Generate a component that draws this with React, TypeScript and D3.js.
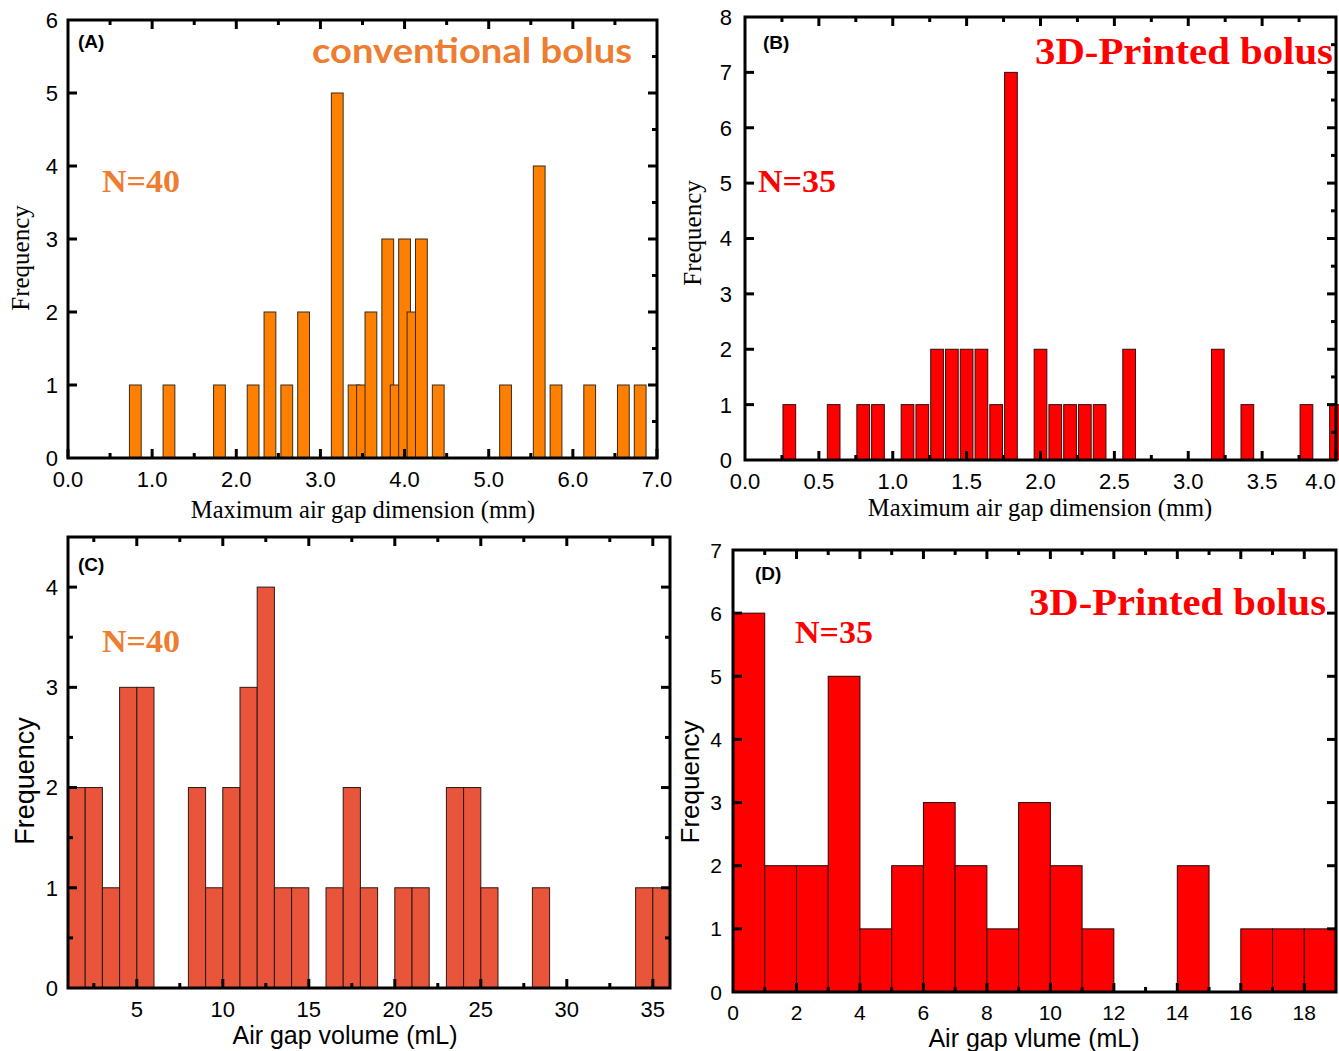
import React from "react";
import * as d3 from "d3";

// ---------- DATA ----------
// Panel A: conventional bolus, maximum air gap dimension (mm)
const aCenters = [0.8, 1.2, 1.8, 2.2, 2.4, 2.6, 2.8, 3.2, 3.4, 3.5, 3.6, 3.8, 3.9, 4.0, 4.1, 4.2, 4.4, 5.2, 5.6, 5.8, 6.2, 6.6, 6.8];
const aCounts = [1, 1, 1, 1, 2, 1, 2, 5, 1, 1, 2, 3, 1, 3, 2, 3, 1, 1, 4, 1, 1, 1, 1];
// Panel B: 3D-printed bolus, maximum air gap dimension (mm)
const bCenters = [0.3, 0.6, 0.8, 0.9, 1.1, 1.2, 1.3, 1.4, 1.5, 1.6, 1.7, 1.8, 2.0, 2.1, 2.2, 2.3, 2.4, 2.6, 3.2, 3.4, 3.8, 4.0];
const bCounts = [1, 1, 1, 1, 1, 1, 2, 2, 2, 2, 1, 7, 2, 1, 1, 1, 1, 2, 2, 1, 1, 1];
// Panel C: conventional bolus, air gap volume (mL), bins of width 1
const cBinStarts = [1, 2, 3, 4, 5, 8, 9, 10, 11, 12, 13, 14, 16, 17, 18, 20, 21, 23, 24, 25, 28, 34, 35];
const cCounts = [2, 2, 1, 3, 3, 2, 1, 2, 3, 4, 1, 1, 1, 2, 1, 1, 1, 2, 2, 1, 1, 1, 1];
// Panel D: 3D-printed bolus, air gap volume (mL), bins of width 1
const dBinStarts = [0, 1, 2, 3, 4, 5, 6, 7, 8, 9, 10, 11, 14, 16, 17, 18];
const dCounts = [6, 2, 2, 5, 1, 2, 3, 2, 1, 3, 2, 1, 2, 1, 1, 1];

const aXTickLabels = ["0.0", "1.0", "2.0", "3.0", "4.0", "5.0", "6.0", "7.0"];
const bXTickLabels = ["0.0", "0.5", "1.0", "1.5", "2.0", "2.5", "3.0", "3.5", "4.0"];
const cXTickLabels = ["5", "10", "15", "20", "25", "30", "35"];
const dXTickLabels = ["0", "2", "4", "6", "8", "10", "12", "14", "16", "18"];

const ORANGE_TEXT = "#ED7D31";
const RED = "#FF0000";
const SANS = "'Liberation Sans', Arial, sans-serif";
const SERIF = "'Liberation Serif', 'Times New Roman', serif";
const SVG_W = 1339;

type Bar = { x0: number; x1: number; h: number };

type PanelProps = {
  box: { left: number; right: number; top: number; bottom: number };
  xDomain: [number, number];
  yDomain: [number, number];
  bars: Bar[];
  fill: string;
  stroke: string;
  bottomMajor: number[];
  bottomMinor: number[];
  bottomLabels: string[];
  topMajor: number[];
  topMinor: number[];
  leftMajor: number[];
  leftMinor: number[];
  rightMajor: number[];
  rightMinor: number[];
  yLabels: number[];
  xLabelBaseline: number;
  yLabelGap: number;
  tickFont: number;
  xTitle: string;
  xTitleFont: string;
  xTitleSize: number;
  xTitleX: number;
  xTitleY: number;
  yTitleFont: string;
  yTitleSize: number;
  yTitleX: number;
  yTitleY: number;
  letter: string;
  letterX: number;
  letterY: number;
};

function Panel(p: PanelProps) {
  const x = d3.scaleLinear().domain(p.xDomain).range([p.box.left, p.box.right]);
  const y = d3.scaleLinear().domain(p.yDomain).range([p.box.bottom, p.box.top]);
  const MAJ = 9;
  const MIN = 5;
  const tk = { stroke: "#000", strokeWidth: 3 };
  return (
    <g>
      {p.bars.map((b, i) => (
        <rect
          key={i}
          x={x(b.x0)}
          y={y(b.h)}
          width={x(b.x1) - x(b.x0)}
          height={y(0) - y(b.h)}
          fill={p.fill}
          stroke={p.stroke}
          strokeWidth={1}
        />
      ))}
      {p.bottomMajor.map((v, i) => (
        <line key={"bM" + i} x1={x(v)} x2={x(v)} y1={p.box.bottom} y2={p.box.bottom - MAJ} {...tk} />
      ))}
      {p.bottomMinor.map((v, i) => (
        <line key={"bm" + i} x1={x(v)} x2={x(v)} y1={p.box.bottom} y2={p.box.bottom - MIN} {...tk} />
      ))}
      {p.topMajor.map((v, i) => (
        <line key={"tM" + i} x1={x(v)} x2={x(v)} y1={p.box.top} y2={p.box.top + MAJ} {...tk} />
      ))}
      {p.topMinor.map((v, i) => (
        <line key={"tm" + i} x1={x(v)} x2={x(v)} y1={p.box.top} y2={p.box.top + MIN} {...tk} />
      ))}
      {p.leftMajor.map((v, i) => (
        <line key={"lM" + i} x1={p.box.left} x2={p.box.left + MAJ} y1={y(v)} y2={y(v)} {...tk} />
      ))}
      {p.leftMinor.map((v, i) => (
        <line key={"lm" + i} x1={p.box.left} x2={p.box.left + MIN} y1={y(v)} y2={y(v)} {...tk} />
      ))}
      {p.rightMajor.map((v, i) => (
        <line key={"rM" + i} x1={p.box.right} x2={p.box.right - MAJ} y1={y(v)} y2={y(v)} {...tk} />
      ))}
      {p.rightMinor.map((v, i) => (
        <line key={"rm" + i} x1={p.box.right} x2={p.box.right - MIN} y1={y(v)} y2={y(v)} {...tk} />
      ))}
      <rect
        x={p.box.left}
        y={p.box.top}
        width={p.box.right - p.box.left}
        height={p.box.bottom - p.box.top}
        fill="none"
        stroke="#000"
        strokeWidth={3}
      />
      {p.bottomLabels.map((s, i) => {
        const cx = x(parseFloat(s));
        const half = (s.length * 0.5 * p.tickFont) / 2;
        const shifted = Math.min(cx, SVG_W - 2 - half);
        return (
          <text
            key={"xl" + i}
            x={shifted}
            y={p.xLabelBaseline}
            textAnchor="middle"
            fontFamily={SANS}
            fontSize={p.tickFont}
          >
            {s}
          </text>
        );
      })}
      {p.yLabels.map((v, i) => (
        <text
          key={"yl" + i}
          x={p.box.left - p.yLabelGap}
          y={y(v)}
          dy="0.36em"
          textAnchor="end"
          fontFamily={SANS}
          fontSize={p.tickFont}
        >
          {v}
        </text>
      ))}
      <text x={p.xTitleX} y={p.xTitleY} textAnchor="middle" fontFamily={p.xTitleFont} fontSize={p.xTitleSize}>
        {p.xTitle}
      </text>
      <text
        transform={`translate(${p.yTitleX},${p.yTitleY}) rotate(-90)`}
        textAnchor="middle"
        dy="0.35em"
        fontFamily={p.yTitleFont}
        fontSize={p.yTitleSize}
      >
        Frequency
      </text>
      <text x={p.letterX} y={p.letterY} fontFamily={SANS} fontWeight="bold" fontSize={19}>
        {p.letter}
      </text>
    </g>
  );
}

export default function App() {
  const aBars = aCenters.map((c, i) => ({ x0: c - 0.07, x1: c + 0.07, h: aCounts[i] }));
  const bBars = bCenters.map((c, i) => ({ x0: c - 0.043, x1: c + 0.043, h: bCounts[i] }));
  const cBars = cBinStarts.map((s, i) => ({ x0: s, x1: s + 1, h: cCounts[i] }));
  const dBars = dBinStarts.map((s, i) => ({ x0: s, x1: s + 1, h: dCounts[i] }));

  return (
    <svg
      width={1339}
      height={1051}
      style={{ position: "absolute", left: 0, top: 0, background: "#fff" }}
    >
      <rect x={0} y={0} width={1339} height={1051} fill="#fff" />
      {/* Panel A */}
      <Panel
        box={{ left: 68, right: 657, top: 20, bottom: 458 }}
        xDomain={[0, 7]}
        yDomain={[0, 6]}
        bars={aBars}
        fill="#FF8000"
        stroke="#3a2a1a"
        bottomMajor={d3.range(0, 7.01, 1)}
        bottomMinor={d3.range(0.5, 7, 1)}
        bottomLabels={aXTickLabels}
        topMajor={d3.range(1, 7, 1)}
        topMinor={d3.range(0.5, 7, 1)}
        leftMajor={d3.range(1, 6, 1)}
        leftMinor={[]}
        rightMajor={d3.range(1, 6, 1)}
        rightMinor={d3.range(0.5, 6, 1)}
        yLabels={d3.range(0, 7, 1)}
        xLabelBaseline={487}
        yLabelGap={10}
        tickFont={22}
        xTitle="Maximum air gap dimension (mm)"
        xTitleFont={SERIF}
        xTitleSize={24.5}
        xTitleX={363}
        xTitleY={518}
        yTitleFont={SERIF}
        yTitleSize={25}
        yTitleX={20}
        yTitleY={258}
        letter="(A)"
        letterX={78}
        letterY={48}
      />
      <text x={632} y={63} textAnchor="end" fontFamily="Lato, 'Open Sans', sans-serif" fontWeight="bold" fontSize={35} fill={ORANGE_TEXT} textLength={320} lengthAdjust="spacingAndGlyphs">
        conventional bolus
      </text>
      <text x={102} y={192} fontFamily={SERIF} fontWeight="bold" fontSize={32} fill={ORANGE_TEXT} textLength={78} lengthAdjust="spacingAndGlyphs">
        N=40
      </text>

      {/* Panel B */}
      <Panel
        box={{ left: 745, right: 1336, top: 17, bottom: 460 }}
        xDomain={[0, 4]}
        yDomain={[0, 8]}
        bars={bBars}
        fill="#FF0000"
        stroke="#3a0a0a"
        bottomMajor={d3.range(0.5, 4.01, 0.5)}
        bottomMinor={d3.range(0.25, 4, 0.5)}
        bottomLabels={bXTickLabels}
        topMajor={d3.range(0.5, 4, 0.5)}
        topMinor={d3.range(0.25, 4, 0.5)}
        leftMajor={d3.range(1, 8, 1)}
        leftMinor={[]}
        rightMajor={d3.range(1, 8, 1)}
        rightMinor={d3.range(0.5, 8, 1)}
        yLabels={d3.range(0, 9, 1)}
        xLabelBaseline={489}
        yLabelGap={13}
        tickFont={22}
        xTitle="Maximum air gap dimension (mm)"
        xTitleFont={SERIF}
        xTitleSize={24.5}
        xTitleX={1040}
        xTitleY={516}
        yTitleFont={SERIF}
        yTitleSize={25}
        yTitleX={692}
        yTitleY={233}
        letter="(B)"
        letterX={763}
        letterY={49}
      />
      <text x={1333} y={64} textAnchor="end" fontFamily={SERIF} fontWeight="bold" fontSize={38} fill={RED} textLength={298} lengthAdjust="spacingAndGlyphs">
        3D-Printed bolus
      </text>
      <text x={758} y={192} fontFamily={SERIF} fontWeight="bold" fontSize={32} fill={RED} textLength={78} lengthAdjust="spacingAndGlyphs">
        N=35
      </text>

      {/* Panel C */}
      <Panel
        box={{ left: 68, right: 670, top: 537, bottom: 988 }}
        xDomain={[1, 36]}
        yDomain={[0, 4.5]}
        bars={cBars}
        fill="#E8553B"
        stroke="#2a1a14"
        bottomMajor={d3.range(5, 36, 5)}
        bottomMinor={d3.range(2.5, 36, 5)}
        bottomLabels={cXTickLabels}
        topMajor={d3.range(5, 36, 5)}
        topMinor={d3.range(2.5, 36, 5)}
        leftMajor={d3.range(1, 5, 1)}
        leftMinor={d3.range(0.5, 4.5, 1)}
        rightMajor={d3.range(1, 5, 1)}
        rightMinor={d3.range(0.5, 4.5, 1)}
        yLabels={d3.range(0, 5, 1)}
        xLabelBaseline={1017}
        yLabelGap={10}
        tickFont={22}
        xTitle="Air gap volume (mL)"
        xTitleFont={SANS}
        xTitleSize={25}
        xTitleX={345}
        xTitleY={1044}
        yTitleFont={SANS}
        yTitleSize={27}
        yTitleX={25}
        yTitleY={781}
        letter="(C)"
        letterX={78}
        letterY={571}
      />
      <text x={102} y={652} fontFamily={SERIF} fontWeight="bold" fontSize={32} fill={ORANGE_TEXT} textLength={78} lengthAdjust="spacingAndGlyphs">
        N=40
      </text>

      {/* Panel D */}
      <Panel
        box={{ left: 733, right: 1336, top: 550, bottom: 992 }}
        xDomain={[0, 19]}
        yDomain={[0, 7]}
        bars={dBars}
        fill="#FF0000"
        stroke="#2a0505"
        bottomMajor={d3.range(2, 19, 2)}
        bottomMinor={d3.range(1, 19, 2)}
        bottomLabels={dXTickLabels}
        topMajor={d3.range(2, 19, 2)}
        topMinor={d3.range(1, 19, 2)}
        leftMajor={d3.range(1, 7, 1)}
        leftMinor={[]}
        rightMajor={d3.range(1, 7, 1)}
        rightMinor={[]}
        yLabels={d3.range(0, 8, 1)}
        xLabelBaseline={1020}
        yLabelGap={11}
        tickFont={21}
        xTitle="Air gap vlume (mL)"
        xTitleFont={SANS}
        xTitleSize={25}
        xTitleX={1034}
        xTitleY={1047}
        yTitleFont={SANS}
        yTitleSize={26}
        yTitleX={690}
        yTitleY={782}
        letter="(D)"
        letterX={755}
        letterY={580}
      />
      <text x={1326} y={615} textAnchor="end" fontFamily={SERIF} fontWeight="bold" fontSize={38} fill={RED} textLength={297} lengthAdjust="spacingAndGlyphs">
        3D-Printed bolus
      </text>
      <text x={795} y={643} fontFamily={SERIF} fontWeight="bold" fontSize={32} fill={RED} textLength={78} lengthAdjust="spacingAndGlyphs">
        N=35
      </text>
    </svg>
  );
}
